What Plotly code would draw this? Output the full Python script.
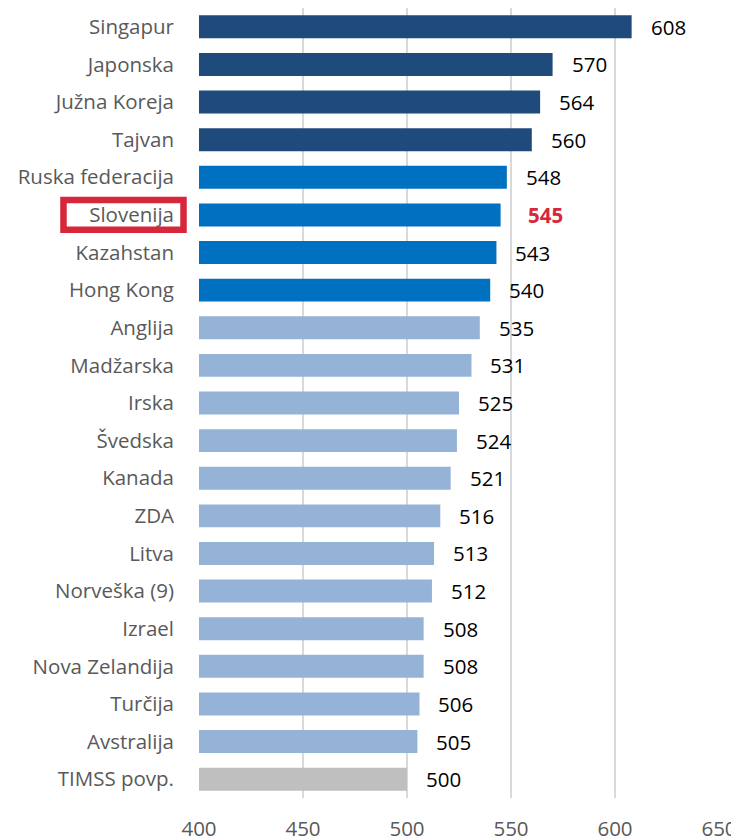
import plotly.graph_objects as go

countries = ["Singapur", "Japonska", "Južna Koreja", "Tajvan", "Ruska federacija",
             "Slovenija", "Kazahstan", "Hong Kong", "Anglija", "Madžarska", "Irska",
             "Švedska", "Kanada", "ZDA", "Litva", "Norveška (9)", "Izrael",
             "Nova Zelandija", "Turčija", "Avstralija", "TIMSS povp."]
scores = [608, 570, 564, 560, 548, 545, 543, 540, 535, 531, 525, 524, 521, 516,
          513, 512, 508, 508, 506, 505, 500]
groups = ["top"] * 4 + ["high"] * 4 + ["mid"] * 12 + ["avg"]
group_colors = {"top": "#1f4a7c", "high": "#0070c0", "mid": "#95b3d7", "avg": "#bfbfbf"}
highlight = "Slovenija"
x_ticks = [400, 450, 500, 550, 600, 650]

colors = [group_colors[g] for g in groups]
FONT = "Open Sans, Noto Sans, Arial"
FS = 20.5

fig = go.Figure()
fig.add_trace(go.Bar(
    y=countries, x=[s - 400 for s in scores], base=400, orientation="h",
    marker=dict(color=colors, line=dict(width=0)),
    hoverinfo="skip",
))

for c, s in zip(countries, scores):
    is_h = c == highlight
    fig.add_annotation(
        x=s, y=c, xref="x", yref="y", text=f"<b>{s}</b>" if is_h else str(s),
        showarrow=False, xanchor="left", xshift=25 if is_h else 17,
        font=dict(size=FS, color="#d6283a" if is_h else "#000000", family=FONT),
    )

hi = countries.index(highlight)
fig.add_shape(type="rect", xref="paper", yref="y",
              x0=-0.2606, x1=-0.0298, y0=hi - 0.395, y1=hi + 0.395,
              line=dict(color="#d6283a", width=6.5), fillcolor="rgba(0,0,0,0)")

fig.update_layout(
    width=739, height=840,
    margin=dict(l=191, r=28, t=0, b=50),
    paper_bgcolor="white", plot_bgcolor="white",
    bargap=0.39, showlegend=False,
    font=dict(family=FONT, color="#595959", size=FS),
)
fig.update_xaxes(range=[400, 650], tickvals=x_ticks, showgrid=True,
                 gridcolor="#d9d9d9", gridwidth=2, zeroline=False,
                 showline=False, tickfont=dict(size=FS, color="#595959", family=FONT),
                 ticks="", ticklabelstandoff=16, fixedrange=True)
fig.update_yaxes(autorange="reversed", categoryorder="array", categoryarray=countries,
                 showgrid=False, ticks="", ticklabelstandoff=24,
                 tickfont=dict(size=FS, color="#595959", family=FONT), fixedrange=True)

fig.write_html("out.html")
